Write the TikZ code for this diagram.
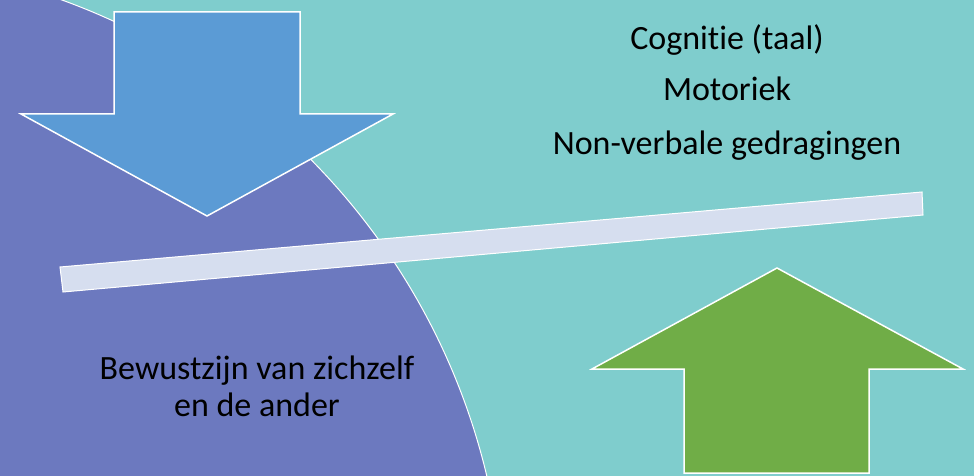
\documentclass[tikz,border=0pt]{standalone}
\usepackage{fontspec}
\setmainfont{Carlito}[Ligatures=NoCommon]
\definecolor{bgteal}{HTML}{7FCDCD}
\definecolor{purp}{HTML}{6C79BF}
\definecolor{blu}{HTML}{5B9BD5}
\definecolor{grn}{HTML}{70AD47}
\definecolor{barc}{HTML}{D6DEEF}
\tikzset{
  shp/.style={draw=white, line width=1.5pt, line join=miter},
  lbl/.style={font=\fontsize{34}{40}\selectfont, text=black, inner sep=0pt},
}
\begin{document}
\begin{tikzpicture}[x=1pt,y=-1pt]
\useasboundingbox (0,0) rectangle (974,476);
\fill[bgteal] (0,0) rectangle (974,476);
\begin{scope}
\clip (0,0) rectangle (974,476);
\fill[purp] (-167,632) circle[radius=672];
\draw[white, line width=1pt] (-167,632) circle[radius=672];
\end{scope}
% blue down arrow
\path[shp, fill=blu] (114,12) -- (300,12) -- (300,114) -- (393,114) -- (207,216) -- (21,114) -- (114,114) -- cycle;
% bar
\path[shp, fill=barc, line width=1pt] (60,267) -- (922,192) -- (923,215) -- (63,292) -- cycle;
% green up arrow
\path[shp, fill=grn] (684,473) -- (684,369) -- (592,369) -- (777,268) -- (963,369) -- (869,369) -- (869,473) -- cycle;
% texts
\node[lbl, anchor=base] (t1) at (727,50) {Cognitie (taal)};
\node[lbl, anchor=base] (t2) at (727,101) {Motoriek};
\node[lbl, anchor=base] (t3) at (727,154) {Non-verbale gedragingen};
\node[lbl, anchor=base] (b1) at (257,379) {Bewustzijn van zichzelf};
\node[lbl, anchor=base] (b2) at (257,416) {en de ander};
\end{tikzpicture}
\end{document}
